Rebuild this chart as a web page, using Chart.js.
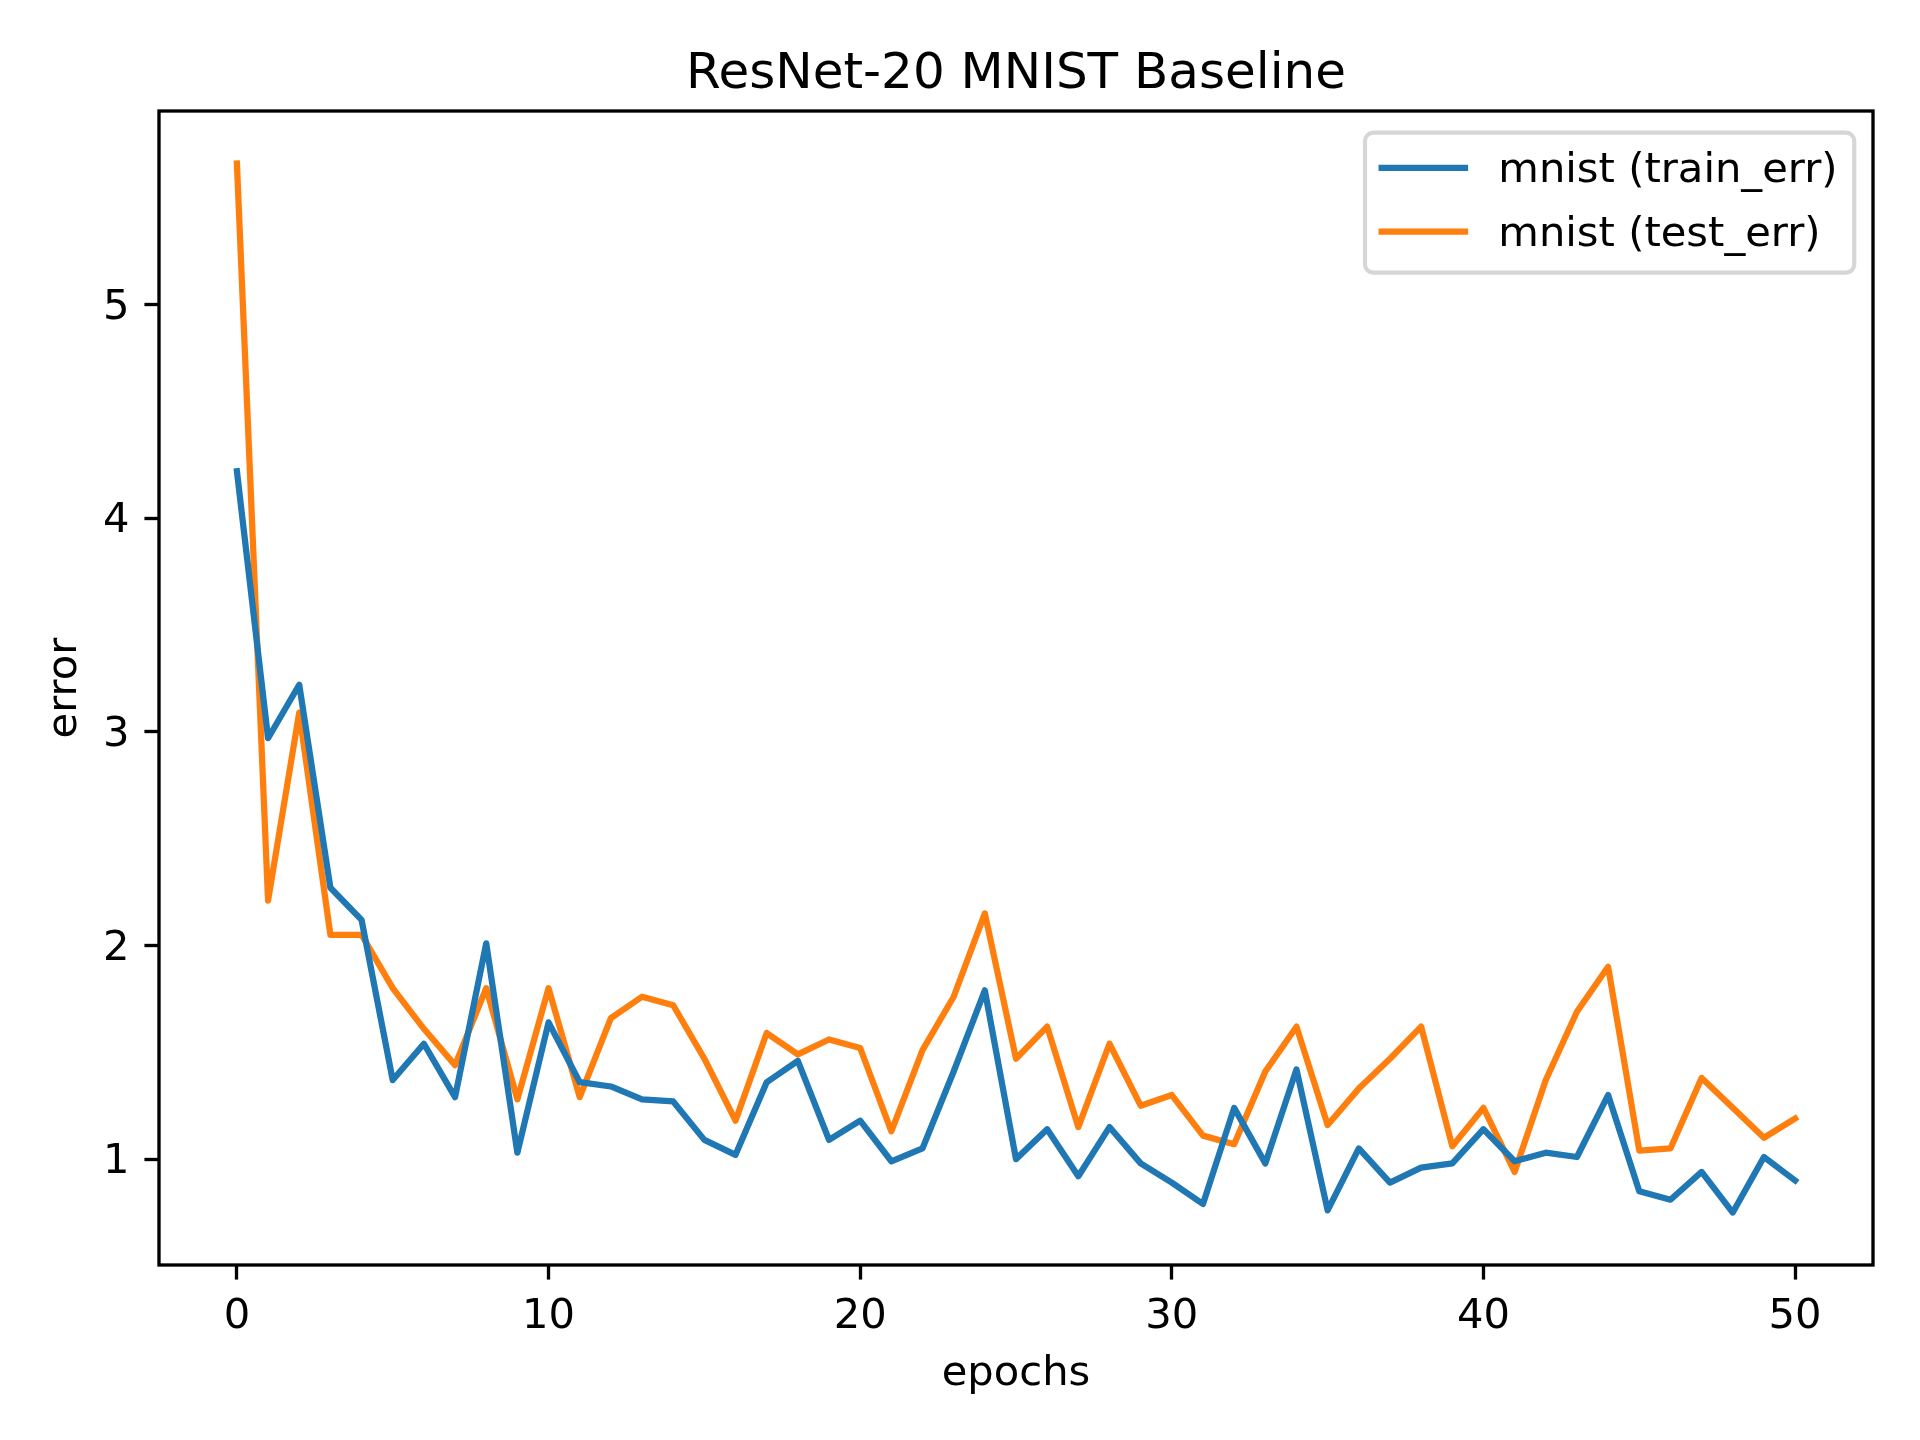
<!DOCTYPE html>
<html>
<head>
<meta charset="utf-8">
<title>ResNet-20 MNIST Baseline</title>
<script src="https://cdn.jsdelivr.net/npm/chart.js@4.4.1/dist/chart.umd.min.js"></script>
<style>
  html, body { margin: 0; padding: 0; background: #fff; }
  canvas { display: block; }
</style>
</head>
<body>
<canvas id="errChart" width="1920" height="1440"></canvas>
<script>
// values
const epochs = [0, 1, 2, 3, 4, 5, 6, 7, 8, 9, 10, 11, 12, 13, 14, 15, 16, 17, 18, 19, 20,
    21, 22, 23, 24, 25, 26, 27, 28, 29, 30, 31, 32, 33, 34, 35, 36, 37, 38, 39, 40,
    41, 42, 43, 44, 45, 46, 47, 48, 49, 50];
const trainErr = [4.22, 2.97, 3.22, 2.27, 2.12, 1.37, 1.54, 1.29, 2.01, 1.03, 1.64,
    1.36, 1.34, 1.28, 1.27, 1.09, 1.02, 1.36, 1.46, 1.09, 1.18,
    0.99, 1.05, 1.41, 1.79, 1.00, 1.14, 0.92, 1.15, 0.98, 0.89,
    0.79, 1.24, 0.98, 1.42, 0.76, 1.05, 0.89, 0.96, 0.98, 1.14,
    0.99, 1.03, 1.01, 1.30, 0.85, 0.81, 0.94, 0.75, 1.01, 0.90];
const testErr = [5.66, 2.21, 3.09, 2.05, 2.05, 1.80, 1.61, 1.44, 1.80, 1.28, 1.80,
    1.29, 1.66, 1.76, 1.72, 1.47, 1.18, 1.59, 1.49, 1.56, 1.52,
    1.13, 1.51, 1.76, 2.15, 1.47, 1.62, 1.15, 1.54, 1.25, 1.30,
    1.11, 1.07, 1.41, 1.62, 1.16, 1.33, 1.47, 1.62, 1.06, 1.24,
    0.94, 1.37, 1.69, 1.90, 1.04, 1.05, 1.38, 1.24, 1.10, 1.19];
const seriesLabels = ['mnist (train_err)', 'mnist (test_err)'];
const xTicks = [0, 10, 20, 30, 40, 50];
const yTicks = [1, 2, 3, 4, 5];

const FONT = 'DejaVu Sans';
const PT = 300 / 72; // figure was saved at 300 dpi
const em = 10 * PT;

// 5% margins like matplotlib autoscale
function padRange(vals) {
    const lo = Math.min(...vals), hi = Math.max(...vals);
    const m = (hi - lo) * 0.05;
    return [lo - m, hi + m];
}
const [xMin, xMax] = padRange(epochs);
const [yMin, yMax] = padRange(trainErr.concat(testErr));

const frameAndLegend = {
    id: 'frameAndLegend',
    afterDatasetsDraw(chart) {
        const ctx = chart.ctx;
        const a = chart.chartArea;
        ctx.save();
        ctx.strokeStyle = '#000';
        ctx.lineWidth = 0.8 * PT;
        ctx.strokeRect(a.left, a.top, a.right - a.left, a.bottom - a.top);

        // legend box, upper right, matplotlib spacing
        ctx.font = em + 'px "' + FONT + '"';
        const sets = chart.data.datasets;
        const textW = Math.max(...sets.map(d => ctx.measureText(d.label).width));
        const pad = 0.4 * em, handleLen = 2 * em, handlePad = 0.8 * em;
        const rowH = 1.03 * em, spacing = 0.5 * em;
        const w = pad * 2 + handleLen + handlePad + textW;
        const h = pad * 2 + rowH * sets.length + spacing * (sets.length - 1);
        const right = a.right - 0.45 * em;
        const top = a.top + 0.52 * em;
        const left = right - w;
        ctx.beginPath();
        ctx.roundRect(left, top, w, h, 0.2 * em);
        ctx.fillStyle = 'rgba(255,255,255,0.8)';
        ctx.fill();
        ctx.strokeStyle = 'rgba(204,204,204,0.8)';
        ctx.lineWidth = 1.0 * PT;
        ctx.stroke();

        sets.forEach((d, i) => {
            const cy = top + pad + rowH * (i + 0.5) + spacing * i - 2.8;
            ctx.beginPath();
            ctx.moveTo(left + pad, cy);
            ctx.lineTo(left + pad + handleLen, cy);
            ctx.strokeStyle = d.borderColor;
            ctx.lineWidth = d.borderWidth;
            ctx.lineCap = 'square';
            ctx.stroke();
            ctx.fillStyle = '#000';
            ctx.textAlign = 'left';
            ctx.textBaseline = 'middle';
            ctx.fillText(d.label, left + pad + handleLen + handlePad, cy + 3.6);
        });
        ctx.restore();
    }
};

const tickGrid = {
    drawOnChartArea: false,
    drawTicks: true,
    tickLength: 3.5 * PT,
    tickWidth: 0.8 * PT,
    tickColor: '#000'
};

new Chart(document.getElementById('errChart'), {
    type: 'line',
    data: {
        datasets: [
            {
                label: seriesLabels[0],
                data: epochs.map((e, i) => ({ x: e, y: trainErr[i] })),
                borderColor: '#1f77b4',
                borderWidth: 1.5 * PT,
                pointRadius: 0,
                tension: 0,
                fill: false,
                borderCapStyle: 'square',
                borderJoinStyle: 'round'
            },
            {
                label: seriesLabels[1],
                data: epochs.map((e, i) => ({ x: e, y: testErr[i] })),
                borderColor: '#ff7f0e',
                borderWidth: 1.5 * PT,
                pointRadius: 0,
                tension: 0,
                fill: false,
                borderCapStyle: 'square',
                borderJoinStyle: 'round'
            }
        ]
    },
    options: {
        responsive: false,
        animation: false,
        devicePixelRatio: 1,
        layout: { padding: { left: 0, right: 47, top: 0, bottom: 0 } },
        plugins: {
            legend: { display: false },
            tooltip: { enabled: false },
            title: {
                display: true,
                fullSize: false,
                text: 'ResNet-20 MNIST Baseline',
                color: '#000',
                font: { family: FONT, size: 12 * PT, weight: 'normal' },
                padding: { top: 45.3, bottom: 5.7 }
            }
        },
        scales: {
            x: {
                type: 'linear',
                min: xMin,
                max: xMax,
                afterBuildTicks: s => { s.ticks = xTicks.map(v => ({ value: v })); },
                afterFit: s => { s.height = 175; },
                grid: tickGrid,
                border: { display: false },
                ticks: {
                    color: '#000',
                    font: { family: FONT, size: em },
                    padding: 12.6,
                    maxRotation: 0,
                    autoSkip: false,
                    callback: v => String(v)
                },
                title: {
                    display: true,
                    text: 'epochs',
                    color: '#000',
                    font: { family: FONT, size: em },
                    padding: { top: 0, bottom: 40.8 }
                }
            },
            y: {
                type: 'linear',
                min: yMin,
                max: yMax,
                afterBuildTicks: s => { s.ticks = yTicks.map(v => ({ value: v })); },
                afterFit: s => { s.width = 159; },
                grid: tickGrid,
                border: { display: false },
                ticks: {
                    color: '#000',
                    font: { family: FONT, size: em },
                    padding: 15,
                    labelOffset: 3.3,
                    autoSkip: false,
                    callback: v => String(v)
                },
                title: {
                    display: true,
                    text: 'error',
                    color: '#000',
                    font: { family: FONT, size: em },
                    padding: { top: 40.2, bottom: 0 }
                }
            }
        }
    },
    plugins: [frameAndLegend]
});
</script>
</body>
</html>
